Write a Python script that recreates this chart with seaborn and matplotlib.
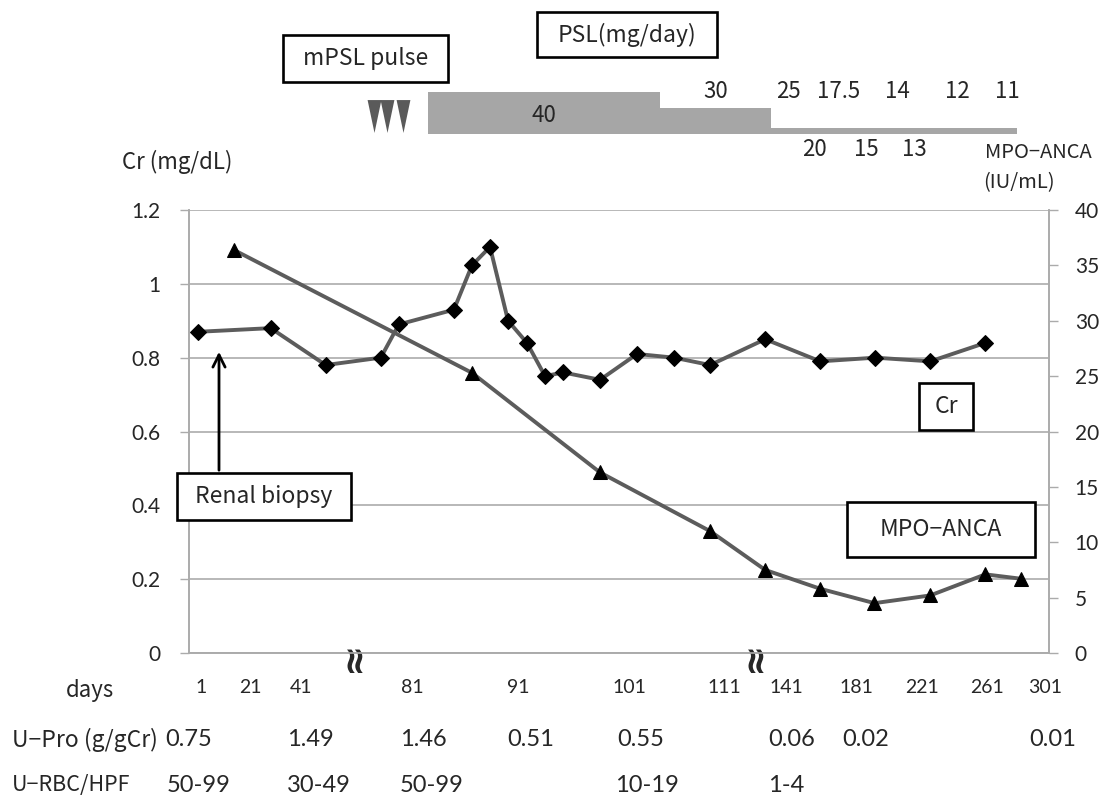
import matplotlib
matplotlib.use("Agg")
import matplotlib.pyplot as plt
import matplotlib.transforms as mtransforms
from matplotlib.patches import Rectangle
import seaborn as sns
import pandas as pd

# position along the (broken) time axis, 0-100 across the plot area
cr_pos = [1.0, 9.5, 15.9, 22.3, 24.4, 30.8, 32.9, 35.0, 37.1, 39.3, 41.4,
          43.5, 47.8, 52.1, 56.4, 60.6, 67.0, 73.4, 79.8, 86.2, 92.6]
cr_vals = [0.87, 0.88, 0.78, 0.80, 0.89, 0.93, 1.05, 1.10, 0.90, 0.84, 0.75,
           0.76, 0.74, 0.81, 0.80, 0.78, 0.85, 0.79, 0.80, 0.79, 0.84]

anca_pos = [5.2, 32.9, 47.8, 60.6, 67.0, 73.4, 79.7, 86.2, 92.6, 96.8]
anca_vals = [36.4, 25.3, 16.3, 11.0, 7.5, 5.8, 4.5, 5.2, 7.1, 6.7]

day_labels = ["1", "21", "41", "81", "91", "101", "111", "141", "181", "221", "261", "301"]
day_pos = [1.4, 7.1, 13.0, 26.0, 38.3, 51.2, 62.3, 69.5, 77.6, 85.2, 92.8, 99.5]

upro_labels = ["0.75", "1.49", "1.46", "0.51", "0.55", "0.06", "0.02", "0.01"]
upro_pos = [-2.8, 11.4, 24.5, 37.0, 49.8, 67.3, 76.0, 97.7]
urbc_labels = ["50-99", "30-49", "50-99", "10-19", "1-4"]
urbc_pos = [-2.6, 11.4, 24.5, 49.5, 67.3]

# PSL schedule (schematic)
psl_start = [27.8, 54.8, 67.7]
psl_end = [54.8, 67.7, 96.3]
psl_block_labels = ["40", "30"]
psl_upper = ["25", "17.5", "14", "12", "11"]
psl_upper_pos = [69.7, 75.5, 82.4, 89.3, 95.2]
psl_lower = ["20", "15", "13"]
psl_lower_pos = [72.7, 78.7, 84.4]
pulse_pos = [21.5, 23.0, 24.9]
break_pos = [19.2, 65.8]

cr_df = pd.DataFrame({"pos": cr_pos, "Cr": cr_vals})
anca_df = pd.DataFrame({"pos": anca_pos, "MPO": anca_vals})

sns.set_style("white")
plt.rcParams["font.family"] = ["Lato", "Noto Sans CJK JP", "DejaVu Sans"]
JP = ["Noto Sans CJK JP", "DejaVu Sans"]

W, H = 1113, 798
fig = plt.figure(figsize=(W / 100, H / 100), dpi=100)
ax = fig.add_axes([189 / W, 1 - 653 / H, 860 / W, 443 / H])
ax2 = ax.twinx()

LINE = "#5c5c5c"
GRID = "#ababab"

sns.lineplot(data=cr_df, x="pos", y="Cr", ax=ax, color=LINE, lw=2.8, marker="D",
             markersize=8, markerfacecolor="black", markeredgecolor="black", sort=False, zorder=3)
sns.lineplot(data=anca_df, x="pos", y="MPO", ax=ax2, color=LINE, lw=2.8, marker="^",
             markersize=10, markerfacecolor="black", markeredgecolor="black", sort=False, zorder=3)

ax.set_xlim(0, 100)
ax.set_ylim(0, 1.2)
ax2.set_ylim(0, 40)
ax.set_yticks([0, 0.2, 0.4, 0.6, 0.8, 1.0, 1.2])
ax.set_yticklabels(["0", "0.2", "0.4", "0.6", "0.8", "1", "1.2"])
ax2.set_yticks(range(0, 41, 5))
ax.grid(axis="y", color=GRID, lw=1.2)
ax.set_xlabel("")
ax.set_ylabel("")
ax2.set_ylabel("")
ax.set_xticks(day_pos)
ax.set_xticklabels(day_labels)
ax.tick_params(axis="x", length=0, pad=19, labelsize=14)
ax.tick_params(axis="y", direction="out", length=6.5, width=1, color=GRID, pad=14, labelsize=15)
ax2.tick_params(axis="y", direction="out", length=6.5, width=1, color=GRID, pad=12, labelsize=15)
for a in (ax, ax2):
    for s in a.spines.values():
        s.set_color(GRID)
        s.set_linewidth(1.2)
    a.spines["top"].set_visible(False)

# axis break marks
for p in break_pos:
    ax.text(p, -0.01, "≈", rotation=90, ha="center", va="center", fontsize=27,
            family="DejaVu Sans", fontweight="bold", clip_on=False, zorder=5)

# top schematic of treatment, sharing the time axis
top = fig.add_axes([189 / W, 1 - 200 / H, 860 / W, 200 / H], sharex=ax)
top.set_ylim(200, 0)
top.axis("off")
bar_base = 134
bar_thick = [42, 26, 6]
for x0, x1, t in zip(psl_start, psl_end, bar_thick):
    top.bar(x0, -t, width=x1 - x0, bottom=bar_base, align="edge", color="#a6a6a6", lw=0)
for i, lab in enumerate(psl_block_labels):
    xc = (psl_start[i] + psl_end[i]) / 2
    yc = 115 if i == 0 else 92
    top.text(xc, yc, lab, ha="center", va="center", fontsize=16, family=JP)
for p, lab in zip(psl_upper_pos, psl_upper):
    top.text(p, 92, lab, ha="center", va="center", fontsize=16, family=JP)
for p, lab in zip(psl_lower_pos, psl_lower):
    top.text(p, 150, lab, ha="center", va="center", fontsize=16, family=JP)
tri = [(-0.42, 1), (0.42, 1), (0, -1)]
top.scatter(pulse_pos, [115.5] * len(pulse_pos), marker=tri, s=560, color="#5a5a5a", lw=0)

# overlay in pixel coordinates for labels and boxes
ov = fig.add_axes([0, 0, 1, 1], zorder=10)
ov.set_xlim(0, W)
ov.set_ylim(H, 0)
ov.axis("off")
ov.patch.set_alpha(0)


def box(x0, y0, x1, y1, text):
    ov.add_patch(Rectangle((x0, y0), x1 - x0, y1 - y0, facecolor="white",
                           edgecolor="black", lw=1.9))
    ov.text((x0 + x1) / 2, (y0 + y1) / 2, text, ha="center", va="center",
            fontsize=16.5, family=JP)


box(283, 35, 448, 82, "mPSL pulse")
box(537, 12, 717, 57, "PSL(mg/day)")
box(177, 473, 351, 520, "Renal biopsy")
box(919, 383, 973, 430, "Cr")
box(847, 502, 1035, 557, "MPO−ANCA")
ov.annotate("", xy=(219, 349), xytext=(219, 473),
            arrowprops=dict(arrowstyle="->", lw=2, color="black", mutation_scale=22))

ov.text(122, 162, "Cr (mg/dL)", ha="left", va="center", fontsize=16, family=JP)
ov.text(985, 152, "MPO−ANCA", ha="left", va="center", fontsize=14.5, family=JP)
ov.text(983, 183, "(IU/mL)", ha="left", va="center", fontsize=14.5, family=JP)

# table rows under the axis
ov.text(90, 690, "days", ha="center", va="center", fontsize=16, family=JP)
ov.text(12, 740, "U−Pro (g/gCr)", ha="left", va="center", fontsize=16.5, family=JP)
ov.text(12, 785, "U−RBC/HPF", ha="left", va="center", fontsize=15.5, family=JP)
row = mtransforms.blended_transform_factory(ax.transData, ov.transData)
for p, lab in zip(upro_pos, upro_labels):
    ov.text(p, 740, lab, ha="left", va="center", fontsize=17, transform=row)
for p, lab in zip(urbc_pos, urbc_labels):
    ov.text(p, 785, lab, ha="left", va="center", fontsize=17, transform=row)

fig.savefig("out.png", dpi=100)
